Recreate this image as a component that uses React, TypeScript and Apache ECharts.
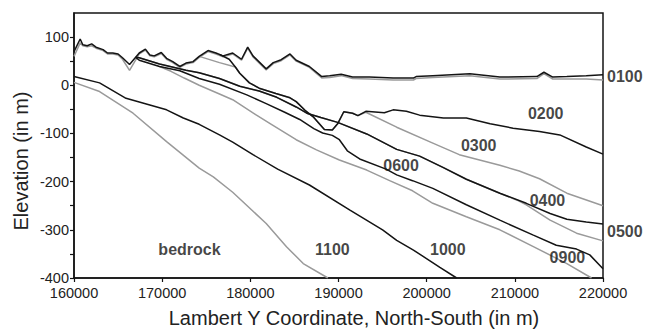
import React, { useEffect, useRef } from "react";
import * as echarts from "echarts";

// ---- data ----
const xTickValues = [160000, 170000, 180000, 190000, 200000, 210000, 220000];
const yTickValues = [-400, -300, -200, -100, 0, 100];
const yTickMarks = [-400, -350, -300, -250, -200, -150, -100, -50, 0, 50, 100];

const surface0100Black = [[160000,70],[160700,96],[161000,84],[161500,82],[162000,86],[162500,79],[163300,74],[163800,67],[164400,67],[165000,65],[165500,57],[166300,43],[167400,67],[168100,75],[168600,63],[169100,61],[169900,68],[170500,56],[171200,49],[172000,39],[172700,46],[173500,49],[174200,60],[175200,72],[176100,67],[176900,61],[178000,67],[179000,54],[179700,79],[180300,61],[181800,34],[182600,47],[183500,53],[184500,65],[185200,52],[186700,39],[188100,18],[189000,20],[190300,23],[191600,17],[193500,17],[196200,15],[198500,15],[198800,18],[200700,20],[204900,24],[208300,17],[212500,18],[213300,27],[214300,17],[215900,18],[218100,20],[220000,22]];
const surface0100Gray = [[160000,60],[160700,88],[161000,82],[161500,80],[162000,82],[162500,77],[163300,72],[163800,65],[164400,65],[165000,63],[165500,54],[166300,31],[167400,65],[168100,73],[168600,61],[169100,59],[169900,66],[170500,54],[171200,47],[172000,37],[172700,44],[173500,47],[174200,58],[175200,70],[176100,65],[176900,59],[178000,65],[179000,52],[179700,77],[180300,59],[181800,32],[182600,45],[183500,51],[184500,63],[185200,50],[186700,37],[188100,15],[189000,16],[190300,20],[191600,14],[193500,13],[196200,11],[198500,11],[198800,14],[200700,16],[204900,20],[208300,13],[212500,14],[213300,24],[214300,13],[215900,13],[218100,13],[220000,11]];
const surface0200 = [[176500,64],[177600,54],[178300,38],[178800,25],[179900,5],[181000,-6],[182900,-17],[184500,-26],[185200,-34],[186200,-52],[187100,-65],[188400,-92],[189300,-93],[189900,-80],[190600,-55],[191600,-58],[192200,-63],[193100,-54],[195200,-57],[196200,-51],[197700,-54],[199200,-62],[201900,-68],[204500,-68],[207200,-80],[209800,-89],[212800,-96],[215100,-103],[218100,-128],[220000,-143]];
const surface0300 = [[174200,60],[176500,47],[178300,38],[178800,25],[179900,5],[181000,-6],[182900,-17],[184500,-26],[185200,-34],[186200,-52],[187100,-65],[188400,-92],[189300,-93],[189900,-80],[190600,-55],[191600,-58],[192200,-63],[193100,-56],[196600,-87],[200700,-120],[203700,-144],[208300,-166],[210500,-178],[212800,-194],[215900,-224],[220000,-250]];
const surface0400 = [[167000,58],[167400,57],[169700,44],[172700,31],[174200,26],[176500,14],[178800,-2],[181000,-12],[183000,-25],[185200,-45],[186400,-58],[188000,-67],[189900,-77],[193200,-101],[196600,-133],[199200,-147],[201900,-171],[204500,-195],[208300,-224],[211300,-245],[214000,-266],[215900,-278],[218100,-284],[220000,-288]];
const surface0500 = [[167000,58],[167400,57],[169700,44],[172700,31],[174200,26],[176500,14],[178800,-2],[181000,-12],[183000,-25],[185200,-45],[186400,-58],[188000,-67],[189900,-77],[193200,-101],[196600,-133],[199200,-147],[201900,-171],[204500,-195],[208300,-224],[210200,-238],[211300,-248],[214000,-280],[217000,-307],[220000,-323]];
const surface0600 = [[167000,58],[167400,52],[169700,39],[172000,30],[174200,14],[176500,2],[179600,-20],[181800,-38],[183900,-56],[185600,-71],[187200,-90],[188200,-99],[189300,-104],[190100,-113],[191000,-136],[192400,-153],[195400,-174],[196600,-186],[198400,-198],[200700,-214],[204500,-248],[208300,-280],[212100,-311],[214700,-332],[217000,-340],[218500,-352],[220000,-381]];
const surface0900 = [[169700,39],[171000,29],[172500,15],[174200,0],[176500,-18],[178000,-30],[180700,-62],[182200,-79],[185200,-113],[187500,-134],[190100,-155],[193200,-176],[195800,-198],[198400,-219],[200700,-245],[204500,-273],[208300,-300],[212100,-335],[215900,-370],[218700,-400]];
const surface1000 = [[160000,18],[162900,5],[165900,-27],[168600,-41],[170500,-51],[172400,-68],[174200,-81],[176500,-103],[178000,-118],[180300,-144],[183100,-174],[186700,-207],[191300,-259],[195000,-300],[196600,-322],[198500,-342],[201500,-378],[203400,-400]];
const surface1100 = [[160000,6],[162900,-13],[166700,-58],[170500,-117],[174200,-172],[175800,-190],[178000,-222],[181800,-287],[184100,-335],[186000,-370],[188800,-400]];

const layerNames = ["0200", "0300", "0400", "0600", "0900", "1000", "1100", "bedrock"];
const layerX = [213500, 205900, 213700, 197100, 215960, 202400, 189300, 173100];
const layerY = [-58, -126, -240, -167, -358, -340, -341, -340];
const edgeNames = ["0100", "0500"];
const edgeX = [220000, 220000];
const edgeY = [18, -304];

const BLACK = "#141414";
const GRAY = "#9a9a9a";
const FONT = "'Liberation Sans', Arial, sans-serif";

export default function App() {
  const ref = useRef<HTMLDivElement>(null);
  useEffect(() => {
    if (!ref.current) return;
    const chart = echarts.init(ref.current, null, { renderer: "svg" });
    const line = (name: string, data: number[][], color: string, z: number) => ({
      name,
      type: "line",
      data,
      showSymbol: false,
      symbol: "none",
      z,
      lineStyle: { color, width: 1.5 },
      emphasis: { disabled: true },
    });
    const labelFont = { fontFamily: FONT, fontWeight: "bold", fontSize: 16, color: BLACK };
    chart.setOption({
      animation: false,
      grid: {
        left: 74, right: 42, top: 13, bottom: 51,
        show: true, borderColor: BLACK, borderWidth: 1.5, backgroundColor: "transparent",
      },
      xAxis: {
        type: "value", min: 160000, max: 220000, interval: 10000,
        axisLine: { show: true, onZero: false, lineStyle: { color: BLACK, width: 1.5 } },
        axisTick: { show: true, length: 4, lineStyle: { color: BLACK, width: 1.2 }, customValues: xTickValues },
        axisLabel: {
          margin: 7, color: "#222", fontSize: 14.5, fontFamily: FONT, customValues: xTickValues,
          formatter: (v: number) => String(v),
        },
        splitLine: { show: false },
      },
      yAxis: {
        type: "value", min: -400, max: 150,
        axisLine: { show: true, onZero: false, lineStyle: { color: BLACK, width: 1.5 } },
        axisTick: { show: true, length: 4, lineStyle: { color: BLACK, width: 1.2 }, customValues: yTickMarks },
        axisLabel: {
          margin: 5, color: "#222", fontSize: 14.5, fontFamily: FONT, customValues: yTickValues,
          formatter: (v: number) => String(v),
        },
        splitLine: { show: false },
      },
      graphic: [
        {
          type: "text", x: 354, y: 318,
          style: { text: "Lambert Y Coordinate, North-South (in m)", fill: "#222", font: `20px ${FONT}`, align: "center", verticalAlign: "middle" },
        },
        {
          type: "text", x: 21, y: 161, rotation: Math.PI / 2,
          style: { text: "Elevation (in m)", fill: "#222", font: `20px ${FONT}`, align: "center", verticalAlign: "middle" },
        },
      ],
      series: [
        line("0100 gray", surface0100Gray, GRAY, 2),
        line("0300", surface0300, GRAY, 2),
        line("0500", surface0500, GRAY, 2),
        line("0900", surface0900, GRAY, 2),
        line("1100", surface1100, GRAY, 2),
        line("0100", surface0100Black, BLACK, 3),
        line("0200", surface0200, BLACK, 3),
        line("0400", surface0400, BLACK, 3),
        line("0600", surface0600, BLACK, 3),
        line("1000", surface1000, BLACK, 3),
        {
          type: "scatter", symbolSize: 0, clip: false, z: 5, silent: true,
          data: layerNames.map((n, i) => ({ value: [layerX[i], layerY[i]], name: n })),
          label: { show: true, position: "inside", formatter: "{b}", ...labelFont },
        },
        {
          type: "scatter", symbolSize: 0, clip: false, z: 5, silent: true,
          data: edgeNames.map((n, i) => ({ value: [edgeX[i], edgeY[i]], name: n })),
          label: { show: true, position: "right", distance: 4, formatter: "{b}", ...labelFont },
        },
      ],
    });
    return () => chart.dispose();
  }, []);
  return <div ref={ref} style={{ position: "fixed", left: 0, top: 0, width: 645, height: 329, background: "#fff" }} />;
}
